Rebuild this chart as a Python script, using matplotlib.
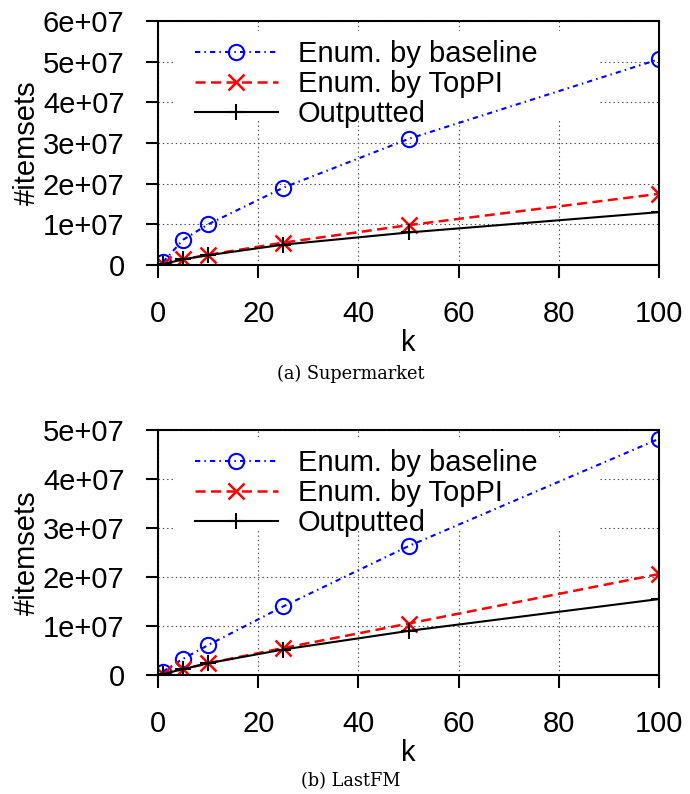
import matplotlib.pyplot as plt
from matplotlib.patches import Rectangle
from matplotlib.ticker import FuncFormatter

k = [1, 5, 10, 25, 50, 100]

# (a) Supermarket
sm_baseline = [0.7e6, 6.2e6, 10.0e6, 19.0e6, 31.0e6, 50.6e6]
sm_toppi = [0.2e6, 1.4e6, 2.5e6, 5.5e6, 9.8e6, 17.5e6]
sm_output = [0.2e6, 1.4e6, 2.4e6, 5.0e6, 8.0e6, 13.0e6]

# (b) LastFM
fm_baseline = [0.7e6, 3.3e6, 6.1e6, 14.0e6, 26.3e6, 48.2e6]
fm_toppi = [0.2e6, 1.2e6, 2.4e6, 5.5e6, 10.5e6, 20.6e6]
fm_output = [0.2e6, 1.2e6, 2.4e6, 5.2e6, 9.0e6, 15.5e6]

labels = ['Enum. by baseline', 'Enum. by TopPI', 'Outputted']
captions = ['(a) Supermarket', '(b) LastFM']
ymax = [6e7, 5e7]

plt.rcParams['font.family'] = ['Liberation Sans', 'DejaVu Sans']

W, H = 690, 794
FS = 21
fig = plt.figure(figsize=(W / 100, H / 100), dpi=100)


def sci(v, pos):
    if v == 0:
        return '0'
    return '%de+07' % round(v / 1e7)


def key(ax, spacing, anchor):
    return ax.legend(loc='upper left', fontsize=FS, frameon=False, handlelength=2.85,
                     handletextpad=0.69, labelspacing=spacing, borderpad=0,
                     borderaxespad=0, bbox_to_anchor=anchor)


def panel(rect, base, toppi, out, top, caption, cap_y):
    ax = fig.add_axes(rect)
    ax.plot(k, base, color='blue', linestyle=(0, (2.5, 2, 0.7, 2)), linewidth=1.5,
            marker='o', markersize=11, markerfacecolor='none', markeredgewidth=1.5,
            label=labels[0], zorder=3)
    ax.plot(k, toppi, color='red', linestyle=(0, (4, 2.2)), linewidth=1.8,
            marker='x', markersize=11, markeredgewidth=1.8, label=labels[1], zorder=3)
    ax.plot(k, out, color='black', linestyle='-', linewidth=1.5,
            marker='+', markersize=12, markeredgewidth=1.5, label=labels[2], zorder=3)
    ax.set_xlim(0, 100)
    ax.set_ylim(0, top)
    ax.set_xticks([0, 20, 40, 60, 80, 100])
    ax.set_yticks([i * 1e7 for i in range(int(top / 1e7) + 1)])
    ax.yaxis.set_major_formatter(FuncFormatter(sci))
    ax.grid(True, color='#444444', linestyle=(0, (1.2, 2.7)), linewidth=0.8)
    ax.set_axisbelow(True)
    # white key box hiding the grid, like gnuplot does
    ax.add_patch(Rectangle((0.030, 0.590), 0.852, 0.369, transform=ax.transAxes,
                           facecolor='white', edgecolor='none', zorder=1))
    for s in ax.spines.values():
        s.set_linewidth(1.5)
        s.set_zorder(4)
    ax.tick_params(labelsize=FS, width=1.5, length=9, direction='out')
    ax.tick_params(axis='x', pad=16)
    ax.tick_params(axis='y', pad=15)
    ax.set_xlabel('k', fontsize=FS)
    ax.set_ylabel('#itemsets', fontsize=FS)
    ax.xaxis.set_label_coords(0.5, -0.262)
    ax.yaxis.set_label_coords(-0.2335, 0.5)
    key(ax, 0.08, (0.072, 0.991))
    fig.text(351 / W, 1 - cap_y / H, caption,
             family='DejaVu Serif', fontsize=12.8, ha='center', va='center')
    return ax


def r(left, top, right, bottom):
    return [left / W, 1 - bottom / H, (right - left) / W, (bottom - top) / H]


ax_a = panel(r(158, 21, 659, 265), sm_baseline, sm_toppi, sm_output, ymax[0], captions[0], 374)
ax_b = panel(r(158, 430, 659, 675), fm_baseline, fm_toppi, fm_output, ymax[1], captions[1], 781)

# key rows 30 px apart, first text top 19 px under the frame, text starting at x=298
fig.canvas.draw()
for ax, top_px in [(ax_a, 21), (ax_b, 430)]:
    t = ax.get_legend().get_texts()
    gap = t[0].get_window_extent().y0 - t[1].get_window_extent().y0
    sp = 0.08 + (30 - gap) / (FS * 100 / 72)
    leg = key(ax, sp, (0.072, 0.991))
    fig.canvas.draw()
    b0 = leg.get_texts()[0].get_window_extent()
    ab = ax.get_window_extent()
    dx = (298 - b0.x0) / ab.width
    dy = ((H - (top_px + 19)) - b0.y1) / ab.height
    leg.set_bbox_to_anchor((0.072 + dx, 0.991 + dy), transform=ax.transAxes)

fig.savefig('out.png', dpi=100)
